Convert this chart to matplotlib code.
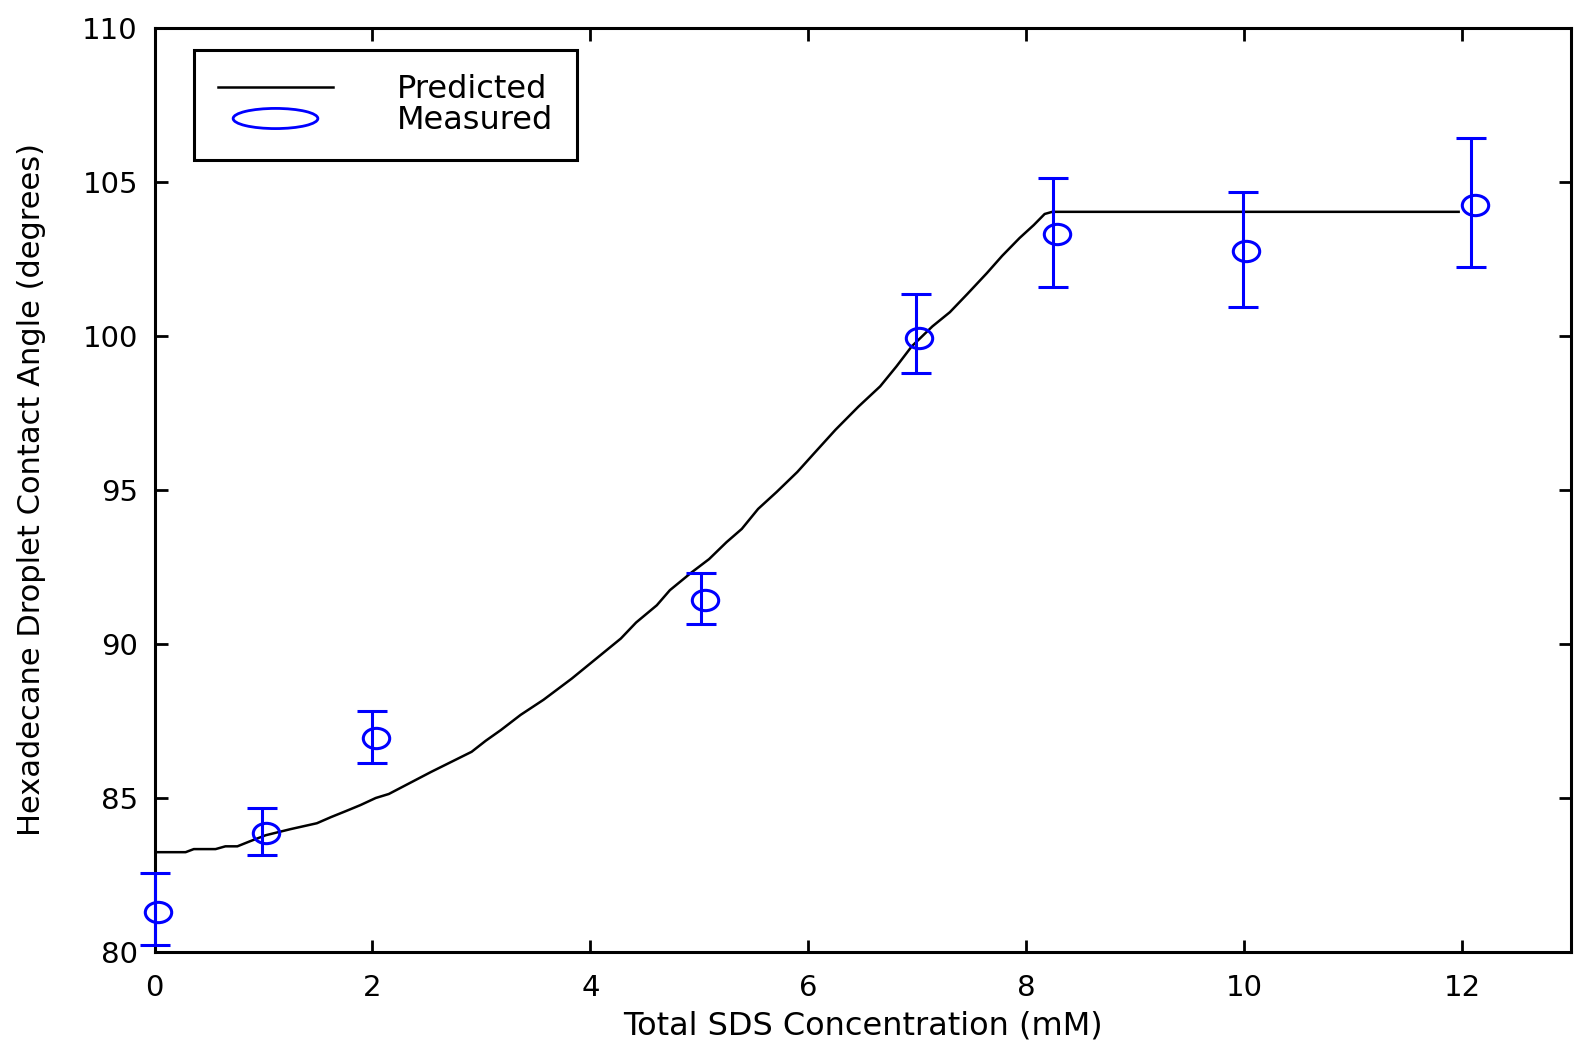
import numpy as np
import matplotlib
matplotlib.use("Agg")
import matplotlib.pyplot as plt
from matplotlib.path import Path
from matplotlib.transforms import Affine2D
from matplotlib.lines import Line2D

# predicted contact angle curve
pred_x = [0.0, 0.285, 0.36, 0.56, 0.65, 0.76, 0.88, 1.02, 1.25, 1.49, 1.62, 1.76,
          1.89, 2.03, 2.15, 2.54, 2.91, 3.04, 3.18, 3.36, 3.57, 3.83, 4.10, 4.28,
          4.42, 4.61, 4.73, 4.93, 5.09, 5.25, 5.39, 5.54, 5.71, 5.90, 6.05, 6.25,
          6.46, 6.66, 6.81, 6.95, 7.14, 7.30, 7.46, 7.64, 7.78, 7.94, 8.07, 8.17,
          8.24, 11.97]
pred_y = [83.23, 83.23, 83.33, 83.33, 83.42, 83.42, 83.59, 83.78, 83.98, 84.17,
          84.37, 84.57, 84.76, 84.99, 85.12, 85.84, 86.49, 86.85, 87.20, 87.69,
          88.18, 88.87, 89.65, 90.17, 90.69, 91.25, 91.74, 92.32, 92.75, 93.30,
          93.73, 94.38, 94.93, 95.58, 96.17, 96.95, 97.70, 98.36, 99.01, 99.66,
          100.31, 100.77, 101.36, 102.04, 102.60, 103.18, 103.60, 103.96, 104.03,
          104.03]

# measured points and error bars
meas_x = [0.03, 1.02, 2.03, 5.05, 7.02, 8.28, 10.02, 12.12]
meas_y = [81.3, 83.85, 86.94, 91.41, 99.92, 103.31, 102.76, 104.26]
bar_x = [0.0, 0.99, 2.0, 5.02, 6.99, 8.25, 9.99, 12.08]
bar_lo = [80.23, 83.13, 86.13, 90.63, 98.81, 101.58, 100.93, 102.24]
bar_hi = [82.54, 84.66, 87.83, 92.29, 101.36, 105.14, 104.68, 106.44]

x_ticks = [0, 2, 4, 6, 8, 10, 12]
y_ticks = [80, 85, 90, 95, 100, 105, 110]

BLUE = "#0000ff"

ellipse = Path.unit_circle().transformed(Affine2D().scale(1.3, 1.0))
wide_ellipse = Path.unit_circle().transformed(Affine2D().scale(4.2, 1.0))

fig = plt.figure(figsize=(15.74, 10.5), dpi=100)
ax = fig.add_axes([0.0982, 0.0937, 0.8998, 0.8796])

ax.plot(pred_x, pred_y, color="black", lw=1.8, zorder=2)

bar_mid = np.interp(bar_x, meas_x, meas_y)
yerr = [bar_mid - np.array(bar_lo), np.array(bar_hi) - bar_mid]
ax.errorbar(bar_x, bar_mid, yerr=yerr, fmt="none",
            ecolor=BLUE, elinewidth=2.2, capsize=11, capthick=2.2, zorder=3,
            clip_on=False)
ax.plot(meas_x, meas_y, linestyle="none", marker=ellipse, markersize=19,
        markerfacecolor="none", markeredgecolor=BLUE, markeredgewidth=2.2,
        zorder=4, clip_on=False)

ax.set_xlim(0, 13)
ax.set_ylim(80, 110)
ax.set_xticks(x_ticks)
ax.set_yticks(y_ticks)
ax.tick_params(direction="in", length=9, width=2, top=True, right=True,
               labelsize=21)
ax.tick_params(axis="x", pad=16)
ax.tick_params(axis="y", pad=12)
for s in ax.spines.values():
    s.set_linewidth(2.2)

ax.set_xlabel("Total SDS Concentration (mM)", fontsize=23, labelpad=6)
ax.set_ylabel("Hexadecane Droplet Contact Angle (degrees)", fontsize=22,
              labelpad=26)

handles = [
    Line2D([], [], color="black", lw=1.8),
    Line2D([], [], linestyle="none", marker=wide_ellipse, markersize=61,
           markerfacecolor="none", markeredgecolor=BLUE, markeredgewidth=2.0),
]
leg = ax.legend(handles, ["Predicted", "Measured"], loc="upper left",
                bbox_to_anchor=(0.0276, 0.976), borderaxespad=0, fontsize=23,
                handlelength=3.6, handletextpad=2.0, labelspacing=0.0,
                borderpad=0.75, fancybox=False, framealpha=1, edgecolor="black")
leg.get_frame().set_linewidth(2.2)

fig.savefig("out.png", dpi=100)
